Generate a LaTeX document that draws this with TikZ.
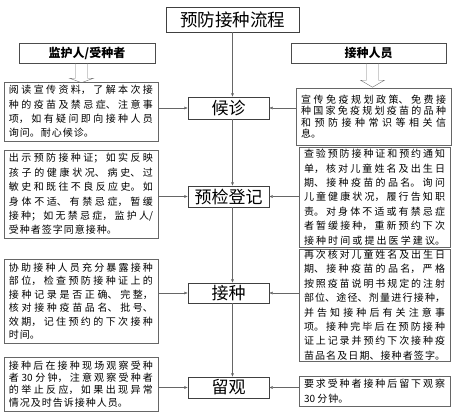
\documentclass[tikz,border=0pt]{standalone}
\usepackage{fontspec}
\setmainfont{Noto Sans CJK SC}
\usetikzlibrary{calc,
	positioning,
	arrows.meta}
\XeTeXlinebreaklocale "zh"
\XeTeXlinebreakskip=1pt plus 3pt minus 0.5pt
\newcommand{\fulllast}{\parfillskip=0pt\par}
\tikzstyle{tt}=[draw=black!75, minimum width=133pt, minimum height=25pt, inner sep=0, font=\fontsize{17.5}{20}\selectfont]
\tikzstyle{hd}=[draw=black!70, minimum height=20pt, inner sep=0, font=\fontsize{12}{14}\selectfont\bfseries]
\tikzstyle{st}=[draw=black!75, minimum width=81pt, inner sep=0, font=\fontsize{17}{20}\selectfont]
\tikzstyle{tx}=[draw=black!60, inner xsep=5pt, inner ysep=0, align=justify, font=\fontsize{10}{14.4}\selectfont]
\tikzstyle{ln}=[draw=black!60, -{Latex[length=3.5pt,width=3pt]}]
\tikzstyle{ho}=[draw=black!55]

\begin{document}
\begin{tikzpicture}[x=1pt, y=-1pt]
            \useasboundingbox (0,0) rectangle (457,418);
            \node[tt] (title) at (232.5,19.5) {预防接种流程};
            \node[hd, minimum width=136pt] (hl) at (87,53) {监护人/受种者};
            \node[hd, minimum width=155pt] (hr) at (368.5,53) {接种人员};
            % steps
            \node[st, minimum height=22pt] (hz) at (228.5,108) {候诊};
            \node[st, minimum height=21pt] (yj) at (228.5,196.5) {预检登记};
            \node[st, minimum height=20pt] (jz) at (228.5,293) {接种};
            \node[st, minimum height=21pt] (lg) at (228.5,387.5) {留观};
            % left
            \node[tx, text width=144pt, minimum height=59pt] (l1) at (81,111.5) {阅读宣传资料，了解本次接\linebreak 种的疫苗及禁忌症、注意事\linebreak 项，如有疑问即向接种人员\linebreak 询问。耐心候诊。};
            \node[tx, text width=144pt, minimum height=88pt] (l2) at (81,194) {出示预防接种证；如实反映\linebreak 孩子的健康状况、病史、过\linebreak 敏史和既往不良反应史。如\linebreak 身体不适、有禁忌症，暂缓\linebreak 接种；如无禁忌症，监护人/\linebreak 受种者签字同意接种。};
            \node[tx, text width=144pt, minimum height=84pt, font=\fontsize{10}{13.5}\selectfont] (l3) at (81,301) {协助接种人员充分暴露接种\linebreak 部位，检查预防接种证上的\linebreak 接种记录是否正确、完整，\linebreak 核对接种疫苗品名、批号、\linebreak 效期，记住预约的下次接种\linebreak 时间。};
            \node[tx, text width=144pt, minimum height=54pt, font=\fontsize{10}{12.4}\selectfont] (l4) at (81,384) {接种后在接种现场观察受种\linebreak 者 30 分钟，注意观察受种者\linebreak 的举止反应，如果出现异常\linebreak 情况及时告诉接种人员。};
            % right
            \node[tx, text width=145pt, minimum height=57pt, font=\fontsize{10}{11.6}\selectfont] (r1) at (373.5,116.5) {宣传免疫规划政策、免费接\linebreak 种国家免疫规划疫苗的品种\linebreak 和预防接种常识等相关信\linebreak 息。};
            \node[tx, text width=141pt, minimum height=100pt] (r2) at (374.5,197) {查验预防接种证和预约通知\linebreak 单，核对儿童姓名及出生日\linebreak 期、接种疫苗的品名。询问\linebreak 儿童健康状况，履行告知职\linebreak 责。对身体不适或有禁忌症\linebreak 者暂缓接种，重新预约下次\linebreak 接种时间或提出医学建议。\fulllast};
            \node[tx, text width=141pt, minimum height=112pt] (r3) at (374.5,305) {再次核对儿童姓名及出生日\linebreak 期、接种疫苗的品名，严格\linebreak 按照疫苗说明书规定的注射\linebreak 部位、途径、剂量进行接种，\linebreak 并告知接种后有关注意事\linebreak 项。接种完毕后在预防接种\linebreak 证上记录并预约下次接种疫\linebreak 苗品名及日期、接种者签字。\fulllast};
            \node[tx, text width=141pt, minimum height=30pt] (r4) at (374.5,391) {要求受种者接种后留下观察\linebreak 30 分钟。};
            % hollow arrows
            \draw[ho] ([xshift=-11.5pt]hl.south) -- ++(0,15) -- ++(-6,0) -- ++(12,4.5) -- ++(12,-4.5) -- ++(-6,0) -- ++(0,-15);
            \draw[ho] ([xshift=-2pt]hr.south) -- ++(0,17) -- ++(-6,0) -- ++(12,7) -- ++(12,-7) -- ++(-6,0) -- ++(0,-17);
            % connectors
            \draw[ln] (title.south) -- (title.south |- hz.north);
            \foreach \a/\b in {hz/yj, yj/jz, jz/lg}
                \draw[ln] (\a.south -| title.south) -- (\b.north -| title.south);
            \foreach \s/\l/\r in {hz/l1/r1, yj/l2/r2, jz/l3/r3, lg/l4/r4} {
                \draw[ln] (\s.west -| \l.east) -- (\s.west);
                \draw[ln] (\s.east -| \r.west) -- (\s.east);
            }
\end{tikzpicture}
\end{document}
